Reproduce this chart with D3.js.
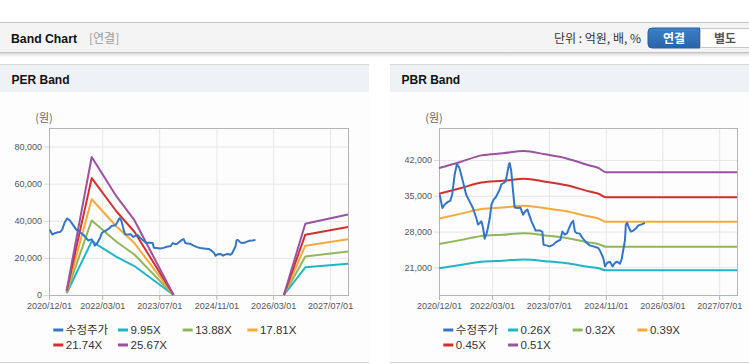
<!DOCTYPE html>
<html><head><meta charset="utf-8">
<script src="https://cdn.jsdelivr.net/npm/d3@7"></script>
<style>
body{margin:0;background:#fff;}
svg{display:block;font-family:"Liberation Sans","Noto Sans CJK KR",sans-serif;}
</style>
</head><body>
<svg id="c" width="749" height="364"></svg>
<script>
// ---------- DATA ----------
const xTickLabels = ["2020/12/01","2022/03/01","2023/07/01","2024/11/01","2026/03/01","2027/07/01"];
const xDomain = ["2020-12-01","2027-12-01"];

const priceDates = ["2020-12-07","2020-12-30","2021-01-19","2021-02-16","2021-03-07","2021-03-24","2021-04-14","2021-05-04","2021-05-26","2021-06-24","2021-07-22","2021-08-20","2021-09-18","2021-10-16","2021-11-01","2021-11-16","2021-11-30","2021-12-14","2021-12-28","2022-01-18","2022-02-10","2022-02-24","2022-03-14","2022-04-07","2022-05-05","2022-05-19","2022-06-09","2022-06-25","2022-07-07","2022-07-24","2022-07-30","2022-08-13","2022-08-28","2022-09-11","2022-10-10","2022-10-30","2022-11-22","2022-12-12","2022-12-29","2023-01-13","2023-02-02","2023-02-22","2023-03-09","2023-04-13","2023-05-06","2023-05-17","2023-06-10","2023-07-08","2023-08-06","2023-09-04","2023-10-08","2023-10-25","2023-11-15","2023-12-05","2023-12-22","2024-01-11","2024-01-26","2024-02-10","2024-02-24","2024-03-22","2024-04-16","2024-05-19","2024-06-16","2024-07-16","2024-08-28","2024-09-16","2024-10-10","2024-10-25","2024-11-13","2024-12-07","2024-12-28","2025-01-19","2025-02-07","2025-03-01","2025-03-16","2025-03-28","2025-04-13","2025-04-22","2025-05-03","2025-05-19","2025-06-04","2025-06-25","2025-07-16","2025-08-07","2025-09-04","2025-10-01"];
const priceValues = [35200,32600,33300,33800,34000,35200,39100,41200,40400,37800,35200,33900,32600,30700,29400,29700,30000,28700,26600,28000,30700,33300,34200,34900,36200,37200,37500,37800,39100,41200,41400,39800,35900,32700,32600,32700,31300,32000,32300,31300,30000,29000,28200,28200,28000,25400,25300,25100,25400,26000,26400,28000,27400,27700,28700,29700,30100,28000,27700,27600,26700,25800,25300,25100,24800,24100,22800,21200,21900,22100,21200,21900,22100,21700,22500,24100,26100,29400,29700,28700,28000,28200,28600,29200,29400,29700];

// PER band
const perBandDates = ["2021-05-01","2021-12-01","2022-07-01","2022-12-01","2023-11-01","2025-01-01","2026-06-01","2026-12-01","2027-12-01"];
const perBand995  = [950, 28900, 20600, 15600, 0, null, 0, 14900, 16800];
const perBand1388 = [1300, 40200, 28700, 21800, 0, null, 0, 20800, 23500];
const perBand1781 = [1700, 51600, 36900, 28000, 0, null, 0, 26600, 30100];
const perBand2174 = [2100, 63000, 45000, 34100, 0, null, 0, 32500, 36700];
const perBand2567 = [2500, 74400, 53100, 40300, 0, null, 0, 38400, 43400];
const perYTicks = [0, 20000, 40000, 60000, 80000];
const perYDomain = [0, 90000];

// PBR band
const pbrBandDates = ["2020-12-01","2021-06-01","2021-12-01","2022-06-01","2022-12-01","2023-06-01","2023-12-01","2024-06-01","2024-09-01","2024-11-01","2027-12-01"];
const pbrBand026 = [20830,21460,22110,22320,22560,22220,21810,21130,20830,20420,20420];
const pbrBand032 = [25550,26330,27130,27380,27680,27250,26750,25930,25550,25050,25050];
const pbrBand039 = [30530,31460,32410,32710,33070,32560,31970,30980,30530,29930,29930];
const pbrBand045 = [35400,36470,37580,37930,38340,37750,37060,35910,35390,34700,34700];
const pbrBand051 = [40400,41600,42900,43300,43750,43100,42300,41000,40400,39600,39600];
const pbrYTicks = [21000, 28000, 35000, 42000];
const pbrYDomain = [15600, 48250];

const perLegend = ["수정주가","9.95X","13.88X","17.81X","21.74X","25.67X"];
const pbrLegend = ["수정주가","0.26X","0.32X","0.39X","0.45X","0.51X"];
const colors = ["#3476c6","#1fb5c6","#8fb65a","#f5a93b","#d1302e","#9b52a0"];

// ---------- DRAW ----------
const parse = d3.timeParse("%Y-%m-%d");
const parseTick = d3.timeParse("%Y/%m/%d");
const svg = d3.select("#c");

// header
const defs = svg.append("defs");
const sh = defs.append("linearGradient").attr("id","shadow").attr("x1",0).attr("y1",0).attr("x2",0).attr("y2",1);
sh.append("stop").attr("offset",0).attr("stop-color","#d8d8d8");
sh.append("stop").attr("offset",1).attr("stop-color","#ffffff");
const bg = defs.append("linearGradient").attr("id","btn").attr("x1",0).attr("y1",0).attr("x2",0).attr("y2",1);
bg.append("stop").attr("offset",0).attr("stop-color","#3c80c8");
bg.append("stop").attr("offset",1).attr("stop-color","#2864a8");

svg.append("rect").attr("x",0).attr("y",22).attr("width",749).attr("height",31).attr("fill","#f4f4f4");
svg.append("line").attr("x1",0).attr("x2",749).attr("y1",22.5).attr("y2",22.5).attr("stroke","#c4c4c4");
svg.append("line").attr("x1",0).attr("x2",749).attr("y1",52.5).attr("y2",52.5).attr("stroke","#c4c4c4");
svg.append("rect").attr("x",0).attr("y",53).attr("width",749).attr("height",4).attr("fill","url(#shadow)");
svg.append("text").attr("x",11).attr("y",43).attr("font-size",13).attr("font-weight","bold").attr("fill","#111")
  .attr("textLength",66).attr("lengthAdjust","spacingAndGlyphs").text("Band Chart");
svg.append("text").attr("x",89).attr("y",43).attr("font-size",12).attr("fill","#999")
  .attr("font-family","Noto Sans CJK KR").text("[연결]");
svg.append("text").attr("x",641).attr("y",43).attr("text-anchor","end").attr("font-size",12).attr("fill","#333")
  .attr("font-family","Noto Sans CJK KR").text("단위 : 억원, 배, %");
svg.append("path").attr("d","M700,28 H652 a4,4 0 0 0 -4,4 V44 a4,4 0 0 0 4,4 H700 Z").attr("fill","url(#btn)").attr("stroke","#2a62a0");
svg.append("rect").attr("x",700.5).attr("y",28.5).attr("width",52).attr("height",19).attr("fill","#fff").attr("stroke","#c8c8c8");
svg.append("text").attr("x",674).attr("y",42.5).attr("text-anchor","middle").attr("font-size",12).attr("font-weight","bold")
  .attr("fill","#fff").attr("font-family","Noto Sans CJK KR").text("연결");
svg.append("text").attr("x",725).attr("y",42.5).attr("text-anchor","middle").attr("font-size",12).attr("font-weight","bold")
  .attr("fill","#555").attr("font-family","Noto Sans CJK KR").text("별도");

function panel(o) {
  const g = svg.append("g");
  // panel frame
  g.append("rect").attr("x",o.px0).attr("y",64).attr("width",o.px1-o.px0).attr("height",299).attr("fill","#fdfdfd");
  g.append("rect").attr("x",o.px0).attr("y",64).attr("width",o.px1-o.px0).attr("height",28).attr("fill","#eef1f5");
  g.append("line").attr("x1",o.px0).attr("x2",o.px1).attr("y1",64.5).attr("y2",64.5).attr("stroke","#d6d6d6");
  g.append("line").attr("x1",o.px0).attr("x2",o.px1).attr("y1",362.5).attr("y2",362.5).attr("stroke","#d0d0d0");
  g.append("text").attr("x",o.px0+11.5).attr("y",84).attr("font-size",12).attr("font-weight","bold").attr("fill","#111").text(o.title);

  const x = d3.scaleTime().domain(xDomain.map(parse)).range([o.left,o.right]);
  const y = d3.scaleLinear().domain(o.yDomain).range([o.bottom,o.top]);
  const w = o.right-o.left, h = o.bottom-o.top;
  const xt = xTickLabels.map(parseTick);

  // grid
  const gy = g.append("g").attr("transform",`translate(${o.left},0)`)
    .call(d3.axisLeft(y).tickValues(o.yTicks).tickSize(-w).tickFormat(""));
  gy.select(".domain").remove();
  gy.selectAll("line").attr("stroke","#e6e6e6");
  const gx = g.append("g").attr("transform",`translate(0,${o.top})`)
    .call(d3.axisBottom(x).tickValues(xt).tickSize(h).tickFormat(""));
  gx.select(".domain").remove();
  gx.selectAll("line").attr("stroke","#e6e6e6");

  // axes labels
  const ay = g.append("g").attr("transform",`translate(${o.left},0)`)
    .call(d3.axisLeft(y).tickValues(o.yTicks).tickSize(5).tickPadding(2).tickFormat(d3.format(",")));
  ay.select(".domain").remove();
  ay.selectAll("line").attr("stroke","#d8d8d8");
  ay.selectAll("text").attr("font-size",9).attr("fill","#555").attr("font-family","Liberation Sans");
  const ax = g.append("g").attr("transform",`translate(0,${o.bottom})`)
    .call(d3.axisBottom(x).tickValues(xt).tickSize(5).tickPadding(3).tickFormat(d3.timeFormat("%Y/%m/%d")));
  ax.select(".domain").remove();
  ax.selectAll("line").attr("stroke","#b4b4b4");
  ax.selectAll("text").attr("font-size",9).attr("fill","#555").attr("font-family","Liberation Sans");

  g.append("rect").attr("x",o.left+0.5).attr("y",o.top+0.5).attr("width",w).attr("height",h)
    .attr("fill","none").attr("stroke","#b4b4b4");
  g.append("text").attr("x",o.left-5).attr("y",122).attr("text-anchor","middle").attr("font-size",11)
    .attr("fill","#666").attr("font-family","Noto Sans CJK KR").text("(원)");

  // clip
  const cid = "clip"+o.px0;
  defs.append("clipPath").attr("id",cid).append("rect").attr("x",o.left).attr("y",o.top).attr("width",w+1).attr("height",h+1);
  const lines = g.append("g").attr("clip-path",`url(#${cid})`);

  o.bands.forEach((vals,i) => {
    const pts = o.bandDates.map((d,k)=>({d:parse(d), v:vals[k]}));
    const line = d3.line().defined(p=>p.v!==null).x(p=>x(p.d)).y(p=>y(p.v)).curve(o.curve);
    lines.append("path").attr("d",line(pts)).attr("fill","none").attr("stroke",colors[i+1])
      .attr("stroke-width",2).attr("stroke-linejoin","round");
  });
  const pp = priceDates.map((d,k)=>({d:parse(d), v:priceValues[k]}));
  lines.append("path").attr("d",d3.line().x(p=>x(p.d)).y(p=>y(p.v))(pp)).attr("fill","none")
    .attr("stroke",colors[0]).attr("stroke-width",2).attr("stroke-linejoin","round");

  // legend
  o.legend.forEach((name,i) => {
    const col = i % 4, row = Math.floor(i/4);
    const lx = o.legX + col*64.7, ly = 330 + row*15;
    g.append("line").attr("x1",lx).attr("x2",lx+10).attr("y1",ly).attr("y2",ly).attr("stroke",colors[i]).attr("stroke-width",3);
    g.append("text").attr("x",lx+12.5).attr("y",ly+4).attr("font-size",11.5).attr("fill","#333").text(name);
  });
}

panel({px0:0, px1:369, title:"PER Band", left:49, right:348, top:128, bottom:295,
  yDomain:perYDomain, yTicks:perYTicks, bandDates:perBandDates,
  bands:[perBand995,perBand1388,perBand1781,perBand2174,perBand2567], curve:d3.curveLinear,
  legend:perLegend, legX:53.3});
panel({px0:390, px1:749, title:"PBR Band", left:439, right:737, top:128, bottom:295,
  yDomain:pbrYDomain, yTicks:pbrYTicks, bandDates:pbrBandDates,
  bands:[pbrBand026,pbrBand032,pbrBand039,pbrBand045,pbrBand051], curve:d3.curveMonotoneX,
  legend:pbrLegend, legX:443.3});
</script>
</body></html>
